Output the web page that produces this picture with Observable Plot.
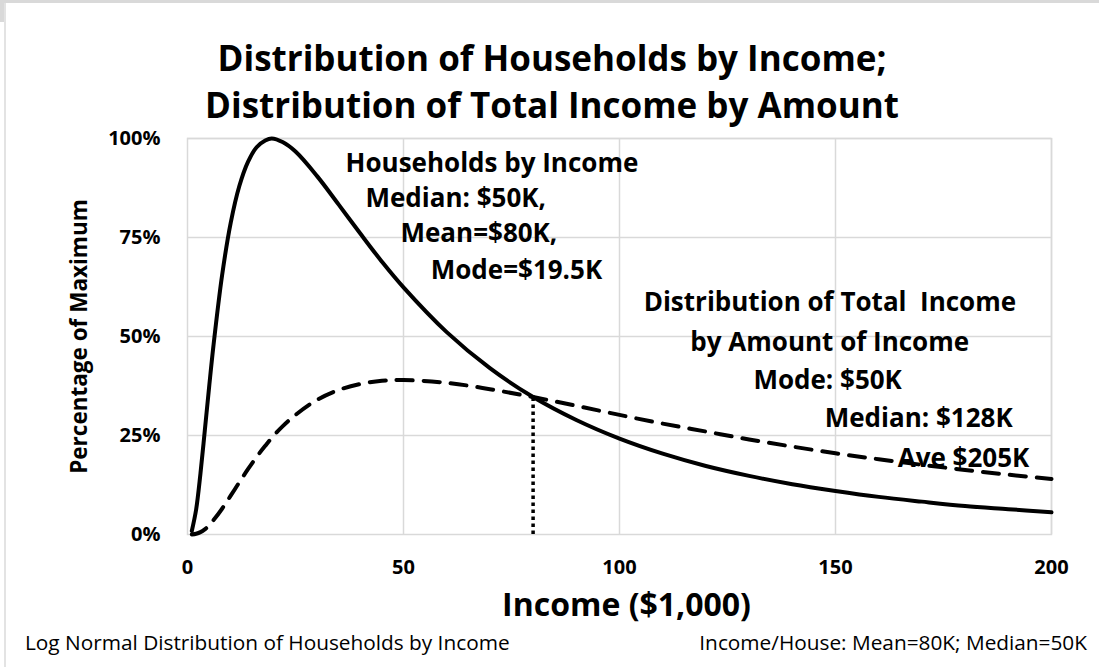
<!DOCTYPE html>
<html>
<head>
<meta charset="utf-8">
<script src="https://cdn.jsdelivr.net/npm/d3@7"></script>
<script src="https://cdn.jsdelivr.net/npm/@observablehq/plot@0.6"></script>
<style>
  html, body { margin: 0; padding: 0; background: #fff; }
  #wrap { position: relative; width: 1099px; height: 667px; background: #fff; overflow: hidden; font-family: "Open Sans", Lato, sans-serif; color: #000; }
  #topbar { position: absolute; left: 0; top: 0; width: 1099px; height: 3px; background: #d9d9d9; }
  #leftblock { position: absolute; left: 0; top: 3px; width: 5px; height: 19px; background: #d9d9d9; }
  #leftline { position: absolute; left: 4px; top: 3px; width: 2px; height: 664px; background: #e3e3e3; }
  #title { position: absolute; left: 0; top: 34px; width: 1104px; text-align: center; font-weight: 700; font-size: 35px; line-height: 47px; }
  #chart { position: absolute; left: 0; top: 110px; }
  #foot { position: absolute; left: 25px; top: 630px; width: 1062px; display: flex; justify-content: space-between; font-size: 20.8px; line-height: 24px; }
</style>
</head>
<body>
<div id="wrap">
  <div id="topbar"></div>
  <div id="leftblock"></div>
  <div id="leftline"></div>
  <div id="title">Distribution of Households by Income;<br>Distribution of Total Income by Amount</div>
  <div id="chart"></div>
  <div id="foot"><span>Log Normal Distribution of Households by Income</span><span>Income/House: Mean=80K; Median=50K</span></div>
</div>
<script>
// Income in $1,000
const incomeK = [1,2,3,4,5,6,8,10,12,14,16,18,19.5,22,25,30,35,40,45,50,60,70,80,90,100,110,120,130,140,150,160,170,180,190,200];
// Households by income (share of maximum)
const householdsPct = [0.009,0.063,0.154,0.262,0.372,0.476,0.654,0.787,0.880,0.941,0.978,0.995,1.000,0.991,0.967,0.905,0.833,0.760,0.689,0.624,0.511,0.420,0.347,0.289,0.242,0.204,0.173,0.148,0.127,0.110,0.095,0.083,0.072,0.064,0.056];
// Total income by amount of income (share of households maximum)
const totalIncomePct = [0.000,0.002,0.006,0.013,0.023,0.036,0.065,0.098,0.132,0.165,0.196,0.224,0.244,0.273,0.302,0.340,0.365,0.380,0.388,0.390,0.383,0.367,0.347,0.325,0.302,0.280,0.260,0.240,0.222,0.205,0.190,0.176,0.163,0.151,0.140];

const meanIncome = [80];
const meanValue = [0.347];

const xTicks = [0, 50, 100, 150, 200];
const yTicks = [0, 0.25, 0.5, 0.75, 1];

const noteHouseholds = [
  {text: "Households by Income", x: 36.6, y: 0.937},
  {text: "Median: $50K,", x: 41.2, y: 0.848},
  {text: "Mean=$80K,", x: 49.3, y: 0.760},
  {text: "Mode=$19.5K", x: 56.3, y: 0.667}
];
const noteTotal = [
  {text: "Distribution of Total  Income", x: 105.6, y: 0.586},
  {text: "by Amount of Income", x: 116.4, y: 0.485},
  {text: "Mode: $50K", x: 131.0, y: 0.389},
  {text: "Median: $128K", x: 147.5, y: 0.293},
  {text: "Ave $205K", x: 164.4, y: 0.192}
];

const households = incomeK.map((x, i) => ({x, y: householdsPct[i]}));
const totalIncome = incomeK.map((x, i) => ({x, y: totalIncomePct[i]}));
const notes = noteHouseholds.concat(noteTotal);

const grid = "#d9d9d9";
const chart = Plot.plot({
  width: 1099,
  height: 519,
  marginLeft: 187,
  marginRight: 48,
  marginTop: 28,
  marginBottom: 95,
  style: {fontFamily: "'Open Sans', Lato, sans-serif", background: "transparent", color: "#000"},
  x: {domain: [0, 200]},
  y: {domain: [0, 1]},
  marks: [
    Plot.gridX(xTicks.slice(1), {stroke: grid, strokeOpacity: 1, strokeWidth: 1.5}),
    Plot.gridY(yTicks.slice(1), {stroke: grid, strokeOpacity: 1, strokeWidth: 1.5}),
    Plot.frame({stroke: grid, strokeWidth: 1.5}),
    Plot.axisX(xTicks, {tickSize: 0, tickPadding: 25, fontSize: 20, fontWeight: 700, label: null}),
    Plot.axisY(yTicks, {tickSize: 0, tickPadding: 27, fontSize: 20, fontWeight: 700, tickFormat: d3.format(".0%"), label: null}),
    Plot.text(["Income ($1,000)"], {frameAnchor: "bottom", dx: 7, dy: 71, fontSize: 32, fontWeight: 700, lineAnchor: "middle"}),
    Plot.text(["Percentage of Maximum"], {frameAnchor: "left", textAnchor: "middle", dx: -108, rotate: -90, fontSize: 22.5, fontWeight: 700, lineAnchor: "middle"}),
    Plot.text(notes, {x: "x", y: "y", text: "text", textAnchor: "start", lineAnchor: "middle", fontSize: 26, fontWeight: 700}),
    Plot.ruleX(meanIncome, {y1: 0, y2: meanValue, stroke: "#000", strokeWidth: 3.5, strokeDasharray: "3.5,3.5"}),
    Plot.line(totalIncome, {x: "x", y: "y", stroke: "#000", strokeWidth: 4, strokeDasharray: "16,11", curve: "catmull-rom"}),
    Plot.line(households, {x: "x", y: "y", stroke: "#000", strokeWidth: 4, curve: "catmull-rom"})
  ]
});
document.getElementById("chart").appendChild(chart);
</script>
</body>
</html>
